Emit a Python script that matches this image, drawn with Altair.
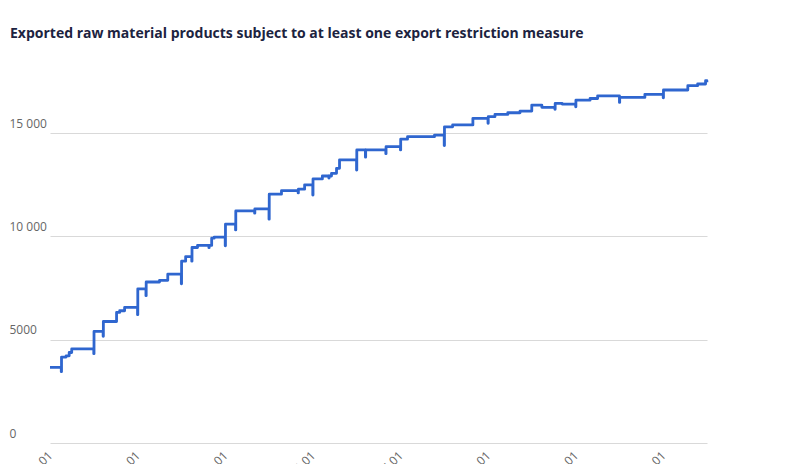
import altair as alt
import pandas as pd

title_text = "Exported raw material products subject to at least one export restriction measure"

dates = [
    "2009-01-01", "2009-04-05", "2009-04-07", "2009-05-15", "2009-06-10", "2009-07-01",
    "2010-01-01", "2010-01-03", "2010-03-20", "2010-03-22", "2010-07-10", "2010-08-05", "2010-09-15",
    "2011-01-01", "2011-01-03", "2011-03-12", "2011-03-14", "2011-07-03", "2011-09-10",
    "2012-01-01", "2012-01-03", "2012-02-06", "2012-03-28", "2012-03-30", "2012-05-15",
    "2012-08-18", "2012-08-20", "2012-09-10", "2012-10-01",
    "2013-01-01", "2013-01-03", "2013-03-28", "2013-03-30", "2013-09-03", "2013-09-05",
    "2014-01-01", "2014-01-03", "2014-04-15", "2014-09-01", "2014-09-03", "2014-10-25",
    "2015-01-01", "2015-01-03", "2015-03-22", "2015-05-15", "2015-05-17", "2015-06-06",
    "2015-07-18", "2015-08-12",
    "2016-01-01", "2016-01-03", "2016-03-15", "2016-03-17", "2016-09-01", "2016-09-03",
    "2017-01-01", "2017-01-03", "2017-03-01", "2017-10-12",
    "2018-01-01", "2018-01-03", "2018-03-12", "2018-08-28",
    "2019-01-01", "2019-01-03", "2019-02-28", "2019-06-15", "2019-09-25",
    "2020-01-01", "2020-03-25", "2020-07-12", "2020-07-14", "2020-09-10",
    "2021-01-01", "2021-01-03", "2021-05-01", "2021-07-03",
    "2022-01-01", "2022-01-03", "2022-08-01",
    "2023-01-01", "2023-01-03", "2023-07-25", "2023-10-15", "2023-12-20", "2023-12-31",
]

values = [
    3660, 3450, 4160, 4220, 4380, 4550,
    4320, 5400, 5160, 5880, 6320, 6400, 6560,
    6210, 7460, 7130, 7790, 7870, 8170,
    7700, 8800, 9020, 8800, 9460, 9560,
    9450, 9560, 9910, 9960,
    9540, 10590, 10310, 11230, 11120, 11330,
    10830, 12040, 12210, 12100, 12280, 12490,
    12000, 12780, 12920, 12820, 12920, 13050,
    13290, 13700,
    13210, 14180, 13830, 14180, 14000, 14340,
    14180, 14700, 14820, 14900,
    14390, 15300, 15390, 15710,
    15470, 15790, 15900, 15980, 16060,
    16350, 16240, 16150, 16430, 16400,
    16270, 16590, 16670, 16800,
    16480, 16720, 16870,
    16700, 17080, 17290, 17370, 17530, 17450,
]

tick_years = [2009, 2011, 2013, 2015, 2017, 2019, 2021, 2023]
y_ticks = [0, 5000, 10000, 15000]

df = pd.DataFrame({"date": [d + "T00:00:00" for d in dates], "value": values})

chart = (
    alt.Chart(df)
    .mark_line(interpolate="step-after", color="#2f66cf", strokeWidth=2.8, strokeJoin="round")
    .encode(
        x=alt.X(
            "date:T",
            title=None,
            scale=alt.Scale(
                domain=[alt.DateTime(year=2009, month=1, date=1), alt.DateTime(year=2024, month=1, date=1)]
            ),
            axis=alt.Axis(
                values=[alt.DateTime(year=y, month=1, date=1) for y in tick_years],
                format="%Y-%m",
                labelAngle=-45,
                labelAlign="right",
                labelBaseline="middle",
                labelPadding=10,
                ticks=False,
                domain=False,
                grid=False,
                labelFont="Open Sans",
                labelFontSize=12,
                labelColor="#666666",
            ),
        ),
        y=alt.Y(
            "value:Q",
            title=None,
            scale=alt.Scale(domain=[0, 18000], nice=False),
            axis=alt.Axis(
                values=y_ticks,
                labelExpr="datum.value >= 10000 ? replace(format(datum.value, ','), ',', ' ') : format(datum.value, 'd')",
                labelAlign="left",
                labelBaseline="bottom",
                labelPadding=41,
                labelOffset=-3,
                ticks=False,
                domain=False,
                grid=True,
                gridColor="#d9d9d9",
                gridWidth=1,
                labelFont="Open Sans",
                labelFontSize=12,
                labelColor="#666666",
            ),
        ),
    )
    .properties(
        width=657,
        height=372,
        title=alt.Title(
            title_text,
            anchor="start",
            frame="group",
            dx=-40,
            offset=30,
            font="Open Sans",
            fontSize=14,
            fontWeight="bold",
            color="#1c2340",
        ),
        autosize=alt.AutoSizeParams(type="none"),
        padding={"left": 42, "top": 63, "right": 50, "bottom": 60},
    )
    .configure_view(stroke=None)
)

chart.save("out.html", embed_options={"renderer": "svg", "actions": False})
